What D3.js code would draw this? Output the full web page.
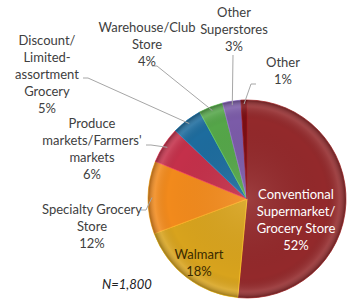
<!DOCTYPE html>
<html>
<head>
<meta charset="utf-8">
<script src="https://cdn.jsdelivr.net/npm/d3@7"></script>
<style>
  body { margin: 0; background: #fff; }
  text { font-family: Lato, "Open Sans", sans-serif; }
</style>
</head>
<body>
<div id="chart"></div>
<script>
// chart data
var categories = ["Conventional Supermarket/ Grocery Store", "Walmart", "Specialty Grocery Store",
  "Produce markets/Farmers' markets", "Discount/ Limited-assortment Grocery",
  "Warehouse/Club Store", "Other Superstores", "Other"];
var shares = [52, 18, 12, 6, 5, 4, 3, 1];
var sliceColors = ["#93292b", "#d8a31d", "#f28a1c", "#c4304a", "#1d6c9e", "#55a649", "#7b5ba8", "#7a0f14"];
var sampleNote = "N=1,800";

// label text split into lines
var labelLines = [
  ["Conventional", "Supermarket/", "Grocery Store", "52%"],
  ["Walmart", "18%"],
  ["Specialty Grocery", "Store", "12%"],
  ["Produce", "markets/Farmers'", "markets", "6%"],
  ["Discount/", "Limited-", "assortment", "Grocery", "5%"],
  ["Warehouse/Club", "Store", "4%"],
  ["Other", "Superstores", "3%"],
  ["Other", "1%"]
];

var width = 352, height = 299;
var cx = 247, cy = 199, R = 99;

// where each label block sits (x center, first baseline) and where its leader starts
var labelLayout = [
  {x: 296, y: 199, color: "#fff", lead: null},
  {x: 199, y: 259, color: "#3a2a00", lead: null},
  {x: 92, y: 214, color: "#404040", lead: [141, 210]},
  {x: 92, y: 128, color: "#404040", lead: [146, 145]},
  {x: 47, y: 45, color: "#404040", lead: [83, 78]},
  {x: 147, y: 32, color: "#404040", lead: [152, 66]},
  {x: 234, y: 17, color: "#404040", lead: [233, 55]},
  {x: 283, y: 67, color: "#404040", lead: [256, 84]}
];

var svg = d3.select("#chart").append("svg")
  .attr("width", width).attr("height", height);

var defs = svg.append("defs");
var bevel = defs.append("radialGradient").attr("id", "bevel");
bevel.append("stop").attr("offset", "0%").attr("stop-color", "#fff").attr("stop-opacity", 0.1);
bevel.append("stop").attr("offset", "80%").attr("stop-color", "#000").attr("stop-opacity", 0);
bevel.append("stop").attr("offset", "93%").attr("stop-color", "#fff").attr("stop-opacity", 0.12);
bevel.append("stop").attr("offset", "100%").attr("stop-color", "#000").attr("stop-opacity", 0.3);

var pie = d3.pie().sort(null).value(function(d) { return d; });
var arcs = pie(shares);
var arc = d3.arc().innerRadius(0).outerRadius(R);

var g = svg.append("g").attr("transform", "translate(" + cx + "," + cy + ")");

g.selectAll("path.slice")
  .data(arcs)
  .enter().append("path")
  .attr("class", "slice")
  .attr("d", arc)
  .attr("fill", function(d, i) { return sliceColors[i]; })
  .attr("stroke", function(d, i) { return d3.color(sliceColors[i]).brighter(0.6); })
  .attr("stroke-width", 0.8);

// 3D-ish shading on top
g.append("circle").attr("r", R).attr("fill", "url(#bevel)");

// leader lines from label to slice edge
arcs.forEach(function(d, i) {
  var lay = labelLayout[i];
  if (!lay.lead) return;
  var mid = (d.startAngle + d.endAngle) / 2;
  var px = cx + (R - 4) * Math.sin(mid);
  var py = cy - (R - 4) * Math.cos(mid);
  var sx = lay.lead[0], sy = lay.lead[1];
  var kx = Math.abs(px - sx) < 4 ? sx : sx + (px > sx ? 5 : -5);
  svg.append("polyline")
    .attr("points", [[sx, sy], [kx, sy], [px, py]].map(function(p) { return p.join(","); }).join(" "))
    .attr("fill", "none")
    .attr("stroke", "#a6a6a6")
    .attr("stroke-width", 1);
});

// labels
labelLines.forEach(function(lines, i) {
  var lay = labelLayout[i];
  var t = svg.append("text")
    .attr("text-anchor", "middle")
    .attr("font-size", 13)
    .attr("fill", lay.color);
  lines.forEach(function(line, j) {
    t.append("tspan").attr("x", lay.x).attr("y", lay.y + j * 17).text(line);
  });
});

svg.append("text")
  .attr("x", 127).attr("y", 289)
  .attr("text-anchor", "middle")
  .attr("font-size", 13)
  .attr("font-style", "italic")
  .attr("fill", "#222")
  .text(sampleNote);
</script>
</body>
</html>
